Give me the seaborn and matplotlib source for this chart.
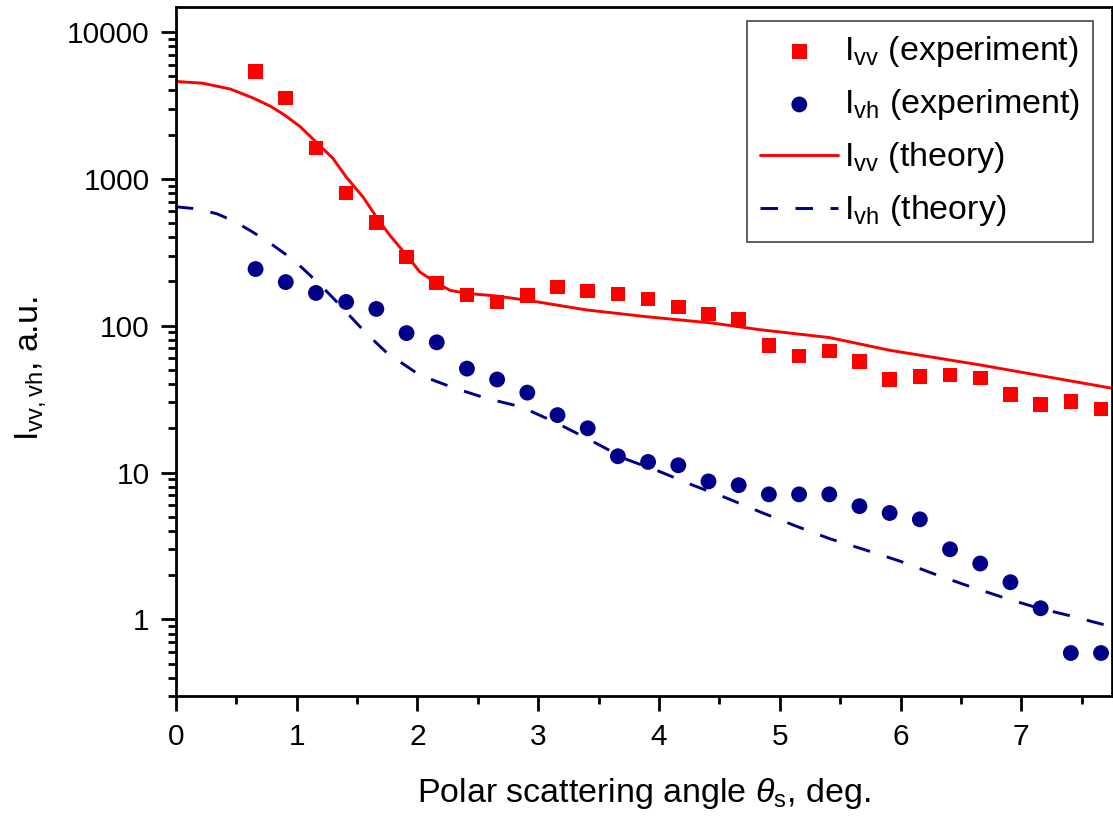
import numpy as np
import pandas as pd
import matplotlib
matplotlib.use("Agg")
import matplotlib.pyplot as plt
import seaborn as sns

# ---- data ----
exp_x = [0.66, 0.91, 1.16, 1.41, 1.66, 1.91, 2.16, 2.41, 2.66, 2.91, 3.16, 3.41,
         3.66, 3.91, 4.16, 4.41, 4.66, 4.91, 5.16, 5.41, 5.66, 5.91, 6.16, 6.41,
         6.66, 6.91, 7.16, 7.41, 7.66]
ivv_exp = [5400, 3550, 1620, 800, 505, 294, 195, 162, 145, 160, 183, 172,
           164, 152, 134, 120, 111, 73, 62, 67, 57, 43, 45, 46,
           44, 34, 29, 30.5, 27]
ivh_exp = [243, 198, 167, 145, 130, 89, 77, 51, 43, 35, 24.6, 20,
           12.9, 11.8, 11.2, 8.7, 8.2, 7.1, 7.1, 7.1, 5.9, 5.3, 4.8, 3.0,
           2.4, 1.79, 1.19, 0.59, 0.59]

ivv_th_x = [0.0, 0.22, 0.45, 0.64, 0.78, 0.90, 1.03, 1.17, 1.30, 1.41, 1.55, 1.66,
            1.77, 1.91, 2.02, 2.16, 2.27, 2.41, 2.66, 2.93, 3.40, 3.90, 4.45,
            4.83, 5.41, 5.91, 6.66, 7.34, 7.75]
ivv_th = [4600, 4480, 4090, 3550, 3130, 2720, 2265, 1750, 1380, 1030, 751, 550,
          414, 302, 232, 195, 174, 166, 159, 148, 128, 115, 104,
          94, 83, 68, 54, 43, 37.5]

ivh_th_x = [0.0, 0.17, 0.34, 0.48, 0.61, 0.75, 0.90, 1.04, 1.18, 1.30, 1.41, 1.58,
            1.75, 2.02, 2.29, 2.57, 2.86, 3.15, 3.45, 3.73, 4.00, 4.28, 4.56,
            4.86, 5.14, 5.41, 5.72, 5.99, 6.27, 6.55, 6.85, 7.13, 7.40, 7.75]
ivh_th = [645, 625, 578, 515, 447, 380, 310, 250, 195, 155, 124, 88,
          65, 46, 38, 32, 28, 21.8, 16.3, 12.3, 10.2, 8.2, 6.7,
          5.3, 4.3, 3.55, 2.95, 2.5, 2.05, 1.7, 1.41, 1.2, 1.06, 0.89]

x_ticks = [0, 1, 2, 3, 4, 5, 6, 7]
y_ticks = [1, 10, 100, 1000, 10000]

RED = "#ff0000"
BLUE = "#000088"

sns.set_style("ticks")
plt.rcParams["font.family"] = ["Liberation Sans", "DejaVu Sans"]
plt.rcParams["mathtext.fontset"] = "custom"
plt.rcParams["mathtext.rm"] = "Liberation Sans"
plt.rcParams["mathtext.it"] = "Liberation Sans:italic"
plt.rcParams["mathtext.bf"] = "Liberation Sans:bold"
plt.rcParams["text.color"] = "black"
plt.rcParams["axes.labelcolor"] = "black"
plt.rcParams["xtick.color"] = "black"
plt.rcParams["ytick.color"] = "black"

fig = plt.figure(figsize=(11.13, 8.19), dpi=100)
ax = fig.add_axes([0.158, 0.150, 0.841, 0.8415])

df_exp = pd.DataFrame({"x": exp_x, "ivv": ivv_exp, "ivh": ivh_exp})
df_vv = pd.DataFrame({"x": ivv_th_x, "y": ivv_th})
df_vh = pd.DataFrame({"x": ivh_th_x, "y": ivh_th})

sns.scatterplot(data=df_exp, x="x", y="ivv", ax=ax, marker="s", s=110,
                color=RED, edgecolor="none", linewidth=0,
                label=r"I$_{\rm vv}$ (experiment)", zorder=3)
sns.scatterplot(data=df_exp, x="x", y="ivh", ax=ax, marker="o", s=130,
                color=BLUE, edgecolor="none", linewidth=0,
                label=r"I$_{\rm vh}$ (experiment)", zorder=3)
sns.lineplot(data=df_vv, x="x", y="y", ax=ax, color=RED, linewidth=2.1,
             label=r"I$_{\rm vv}$ (theory)", zorder=2)
sns.lineplot(data=df_vh, x="x", y="y", ax=ax, color=BLUE, linewidth=2.1,
             label=r"I$_{\rm vh}$ (theory)", zorder=2)
ax.lines[-1].set_dashes((6, 6))

ax.set_yscale("log")
ax.set_xlim(0, 7.75)
ax.set_ylim(0.3, 14800)
ax.set_xticks(x_ticks)
ax.set_xticklabels([str(t) for t in x_ticks])
ax.set_xticks(np.arange(0.5, 7.75, 1.0), minor=True)
ax.set_yticks(y_ticks)
ax.set_yticklabels([str(t) for t in y_ticks])
ax.yaxis.set_minor_locator(matplotlib.ticker.LogLocator(base=10, subs=np.arange(2, 10)))
ax.yaxis.set_minor_formatter(matplotlib.ticker.NullFormatter())

for s in ax.spines.values():
    s.set_linewidth(2.0)
    s.set_color("black")
ax.tick_params(axis="both", which="major", direction="out", length=11, width=2.0,
               labelsize=21.5, pad=8, top=False, right=False)
ax.tick_params(axis="both", which="minor", direction="out", length=5.5, width=2.0,
               top=False, right=False)

ax.set_xlabel(r"Polar scattering angle $\theta_{\rm s}$, deg.", fontsize=24.5, labelpad=18)
ax.set_ylabel(r"I$_{\rm vv,vh}$, a.u.", fontsize=24.5)
ax.yaxis.set_label_coords(-0.137, 0.475)

leg = ax.legend(loc="upper right", bbox_to_anchor=(0.98, 0.98), borderaxespad=0,
                fontsize=24.5, frameon=True, fancybox=False, handlelength=2.3,
                handletextpad=0.15, labelspacing=0.53, borderpad=0.4,
                markerscale=1.0)
leg.get_frame().set_edgecolor("#444444")
leg.get_frame().set_linewidth(1.2)
leg.get_frame().set_alpha(1)

fig.savefig("out.png", dpi=100)
